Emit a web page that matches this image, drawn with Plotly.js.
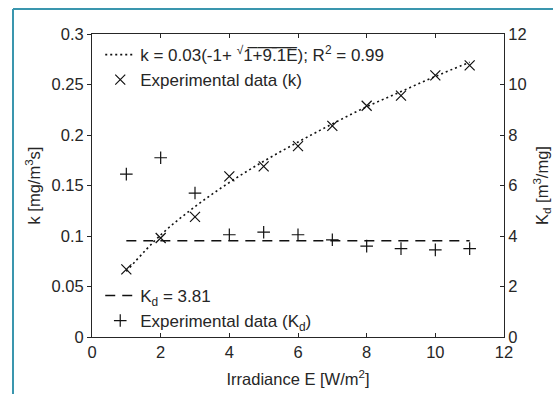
<!DOCTYPE html>
<html>
<head>
<meta charset="utf-8">
<script src="https://cdn.plot.ly/plotly-3.0.1.min.js"></script>
<style>html,body{margin:0;padding:0;background:#fff;}#chart{width:553px;height:394px;}</style>
</head>
<body>
<div id="chart"></div>
<script>
// Irradiance E [W/m2]
var irradiance = [1, 2, 3, 4, 5, 6, 7, 8, 9, 10, 11];
// experimental k [mg/m3 s]
var kExperimental = [0.067, 0.098, 0.119, 0.159, 0.169, 0.189, 0.209, 0.229, 0.239, 0.259, 0.269];
// fitted curve k = 0.03(-1+sqrt(1+9.1E)), values read at E = 1..11
var kFitted = [0.065, 0.101, 0.129, 0.153, 0.174, 0.193, 0.211, 0.228, 0.243, 0.258, 0.272];
// experimental Kd [m3/mg]
var kdExperimental = [6.45, 7.1, 5.7, 4.05, 4.15, 4.05, 3.85, 3.6, 3.5, 3.45, 3.5];
// Kd mean line
var kdLineE = [1, 11];
var kdLineValue = [3.81, 3.81];
var xTicks = [0, 2, 4, 6, 8, 10, 12];

var FONT = '"Liberation Sans", Arial, sans-serif';
var TXT = '#262626';
var OL = '\u0305';
function overline(s){ return s.split('').map(function(c){return c + OL;}).join(''); }

var traces = [
  {x: irradiance, y: kFitted, type: 'scatter', mode: 'lines', line: {shape: 'spline', color: '#111', width: 1.6, dash: '2px,3px'},
   name: 'k = 0.03(-1+ <sup>\u221A</sup>' + overline('1+9.1E') + '); R<sup>2</sup> = 0.99', legend: 'legend', legendgroup: 'a'},
  {x: irradiance, y: kExperimental, type: 'scatter', mode: 'markers', marker: {symbol: 'x-thin-open', size: 10, line: {color: '#111', width: 1.2}, color: '#111'},
   name: 'Experimental data (k)', legend: 'legend', legendgroup: 'b'},
  {x: kdLineE, y: kdLineValue, yaxis: 'y2', type: 'scatter', mode: 'lines', line: {color: '#111', width: 1.6, dash: '10px,7px'},
   name: 'K<sub>d</sub> = 3.81', legend: 'legend2', legendgroup: 'c'},
  {x: irradiance, y: kdExperimental, yaxis: 'y2', type: 'scatter', mode: 'markers', marker: {symbol: 'cross-thin-open', size: 9, line: {color: '#111', width: 1.2}, color: '#111'},
   name: 'Experimental data (K<sub>d</sub>)', legend: 'legend2', legendgroup: 'd'}
];

var layout = {
  width: 553, height: 394,
  margin: {l: 92, r: 49, t: 34, b: 57},
  paper_bgcolor: '#fff', plot_bgcolor: '#fff',
  font: {family: FONT, size: 17, color: TXT},
  showlegend: true,
  xaxis: {range: [0, 12], tickvals: xTicks, ticks: 'inside', ticklen: 4, tickcolor: '#262626',
    showline: true, linecolor: '#262626', linewidth: 1, mirror: 'ticks', showgrid: false, zeroline: false,
    title: {text: 'Irradiance E [W/m<sup>2</sup>]', font: {size: 16.5}, standoff: 13}, tickfont: {size: 16.5}},
  yaxis: {range: [0, 0.3], dtick: 0.05, ticks: 'outside', ticklen: 4, tickcolor: '#262626',
    showline: true, linecolor: '#262626', linewidth: 1, mirror: true, showgrid: false, zeroline: false,
    tickfont: {size: 16.5}},
  yaxis2: {range: [0, 12], dtick: 2, overlaying: 'y', side: 'right', ticks: 'inside', ticklen: 4, tickcolor: '#262626',
    showline: true, linecolor: '#262626', linewidth: 1, showgrid: false, zeroline: false,
    title: {text: 'K<sub>d</sub> [m<sup>3</sup>/mg]', font: {size: 16.5}, standoff: 13}, tickfont: {size: 16.5}},
  legend: {x: 0.02, y: 0.99, xanchor: 'left', yanchor: 'top', bgcolor: 'rgba(0,0,0,0)', borderwidth: 0,
    font: {size: 17}, tracegroupgap: 0},
  legend2: {x: 0.02, y: 0.195, xanchor: 'left', yanchor: 'top', bgcolor: 'rgba(0,0,0,0)', borderwidth: 0,
    font: {size: 17}, tracegroupgap: 0},
  annotations: [
    {text: 'k [mg/m<sup>3</sup>s]', xref: 'paper', yref: 'paper', x: (33 - 92) / 412, y: 0.5, xanchor: 'center', yanchor: 'middle',
     textangle: -90, showarrow: false, font: {size: 16.5, color: TXT}}
  ],
  shapes: [
    {type: 'line', xref: 'paper', yref: 'paper', x0: (13 - 92) / 412, x1: (13 - 92) / 412, y0: 1.0825, y1: -0.3, line: {color: '#3a96ae', width: 2}},
    {type: 'line', xref: 'paper', yref: 'paper', x0: (13 - 92) / 412, x1: 1.2, y0: 1.0825, y1: 1.0825, line: {color: '#3a96ae', width: 2}}
  ]
};

Plotly.newPlot('chart', traces, layout, {displayModeBar: false, staticPlot: true});
</script>
</body>
</html>
